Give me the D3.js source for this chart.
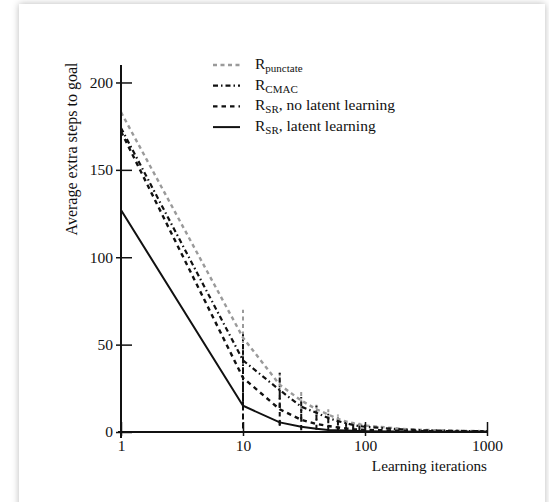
<!DOCTYPE html>
<html>
<head>
<meta charset="utf-8">
<script src="https://cdn.jsdelivr.net/npm/d3@7"></script>
<style>
  body { margin: 0; background: #fff; overflow: hidden; }
  .card { position: absolute; left: 19px; top: 4px; width: 526px; height: 520px;
          background: #fff; box-shadow: 0 0 7px rgba(0,0,0,0.28); }
  svg { position: absolute; left: 0; top: 0; }
  text { font-family: "Liberation Serif", "Times New Roman", serif; fill: #111; }
</style>
</head>
<body>
<div class="card"></div>
<script>
const w = 549;
const h = 502;

// data
const iters = [1, 10, 20, 30, 40, 50, 60, 70, 80, 90, 100, 200, 300, 400, 500, 600, 700, 800, 900, 1000];
const punctate = [183, 54, 27, 18, 13, 10, 7.5, 6, 5, 4.3, 3.7, 1.8, 1.2, 1, 0.8, 0.7, 0.6, 0.6, 0.5, 0.5];
const punctateErr = [0, 16, 8, 6, 4, 3, 2.5, 2, 1.5, 1.3, 1, 0, 0, 0, 0, 0, 0, 0, 0, 0];
const cmac = [174, 41, 24, 14.5, 11, 8, 6.2, 5, 4, 3.4, 3, 1.5, 1, 0.8, 0.7, 0.6, 0.5, 0.5, 0.5, 0.4];
const cmacErr = [0, 15, 10, 7, 4, 3, 2.5, 2, 1.5, 1.2, 1, 0, 0, 0, 0, 0, 0, 0, 0, 0];
const srNoLatent = [172, 31, 13, 7, 4.6, 3.4, 2.6, 2, 1.6, 1.4, 1.2, 0.7, 0.5, 0.4, 0.4, 0.3, 0.3, 0.3, 0.3, 0.3];
const srNoLatentErr = [0, 16, 9, 6, 3, 2.5, 2, 1.5, 1.2, 1, 0.8, 0, 0, 0, 0, 0, 0, 0, 0, 0];
const srLatent = [127, 15, 5.5, 3, 1.8, 1.2, 1, 0.8, 0.7, 0.6, 0.5, 0.3, 0.2, 0.2, 0.2, 0.2, 0.2, 0.2, 0.2, 0.2];
const srLatentErr = [0, 13, 2, 1, 0.5, 0, 0, 0, 0, 0, 0, 0, 0, 0, 0, 0, 0, 0, 0, 0];

const xTicks = [1, 10, 100, 1000];
const yTicks = [0, 50, 100, 150, 200];

const series = [
  { name: "punctate", sub: "punctate", rest: "", vals: punctate, err: punctateErr, color: "#9a9a9a", dash: "4,3.5", width: 2.4 },
  { name: "cmac", sub: "CMAC", rest: "", vals: cmac, err: cmacErr, color: "#111", dash: "5,3,1.5,3", width: 2.2 },
  { name: "srNo", sub: "SR", rest: ", no latent learning", vals: srNoLatent, err: srNoLatentErr, color: "#111", dash: "4.5,4", width: 2.4 },
  { name: "srLat", sub: "SR", rest: ", latent learning", vals: srLatent, err: srLatentErr, color: "#111", dash: null, width: 2 }
];

const svg = d3.select("body").append("svg").attr("width", w).attr("height", h);

const xScale = d3.scaleLog().domain([1, 1000]).range([121, 487]);
const yScale = d3.scaleLinear().domain([0, 210]).range([432, 65]);

const line = d3.line()
  .x((d) => xScale(d[0]))
  .y((d) => yScale(d[1]));

// error bars
series.forEach((s) => {
  svg.append("g")
    .selectAll("line")
    .data(iters.map((x, i) => [x, s.vals[i], s.err[i]]).filter((d) => d[2] > 0))
    .enter()
    .append("line")
    .attr("x1", (d) => xScale(d[0]))
    .attr("x2", (d) => xScale(d[0]))
    .attr("y1", (d) => yScale(Math.max(0, d[1] - d[2])))
    .attr("y2", (d) => yScale(d[1] + d[2]))
    .attr("stroke", s.color)
    .attr("stroke-width", 2)
    .attr("stroke-dasharray", s.dash || "6,3");
});

// lines
series.forEach((s) => {
  svg.append("path")
    .datum(iters.map((x, i) => [x, s.vals[i]]))
    .attr("d", line)
    .attr("fill", "none")
    .attr("stroke", s.color)
    .attr("stroke-width", s.width)
    .attr("stroke-dasharray", s.dash);
});

// x-axis
const xAG = svg.append("g")
  .attr("transform", `translate(0, ${yScale(0)})`)
  .call(d3.axisBottom(xScale).tickValues(xTicks).tickFormat(d3.format("d")).tickSizeOuter(0));
xAG.select(".domain").attr("stroke", "#111").attr("stroke-width", 2).attr("d", `M118,0H488`);
xAG.selectAll(".tick line").attr("y1", 4).attr("y2", -10).attr("stroke", "#111").attr("stroke-width", 1.5);
xAG.selectAll(".tick text").attr("y", 8).attr("font-size", 15.5).attr("font-family", "Liberation Serif").attr("fill", "#111");

// y-axis
const yAG = svg.append("g")
  .attr("transform", `translate(${xScale(1)}, 0)`)
  .call(d3.axisLeft(yScale).tickValues(yTicks).tickSizeOuter(0));
yAG.select(".domain").attr("stroke", "#111").attr("stroke-width", 2).attr("d", `M0,${yScale(210)}V${yScale(0) + 6}`);
yAG.selectAll(".tick line").attr("x1", -5).attr("x2", 11).attr("stroke", "#111").attr("stroke-width", 1.5);
yAG.selectAll(".tick text").attr("x", -8).attr("font-size", 15.5).attr("font-family", "Liberation Serif").attr("fill", "#111");

// axis titles
svg.append("text")
  .attr("x", 487)
  .attr("y", 471)
  .attr("text-anchor", "end")
  .attr("font-size", 15.2)
  .text("Learning iterations");

svg.append("text")
  .attr("transform", "rotate(-90)")
  .attr("x", -149)
  .attr("y", 77)
  .attr("text-anchor", "middle")
  .attr("font-size", 16)
  .text("Average extra steps to goal");

// legend
const legend = svg.append("g");
series.forEach((s, i) => {
  const ly = 65 + i * 20.7;
  legend.append("line")
    .attr("x1", 213).attr("x2", 240)
    .attr("y1", ly).attr("y2", ly)
    .attr("stroke", s.color)
    .attr("stroke-width", s.width)
    .attr("stroke-dasharray", s.dash);
  const t = legend.append("text")
    .attr("x", 255)
    .attr("y", ly + 4)
    .attr("font-size", 15.5);
  t.append("tspan").text("R");
  t.append("tspan").attr("font-size", 11).attr("dy", 3).text(s.sub);
  t.append("tspan").attr("dy", -3).text(s.rest);
});
</script>
</body>
</html>
